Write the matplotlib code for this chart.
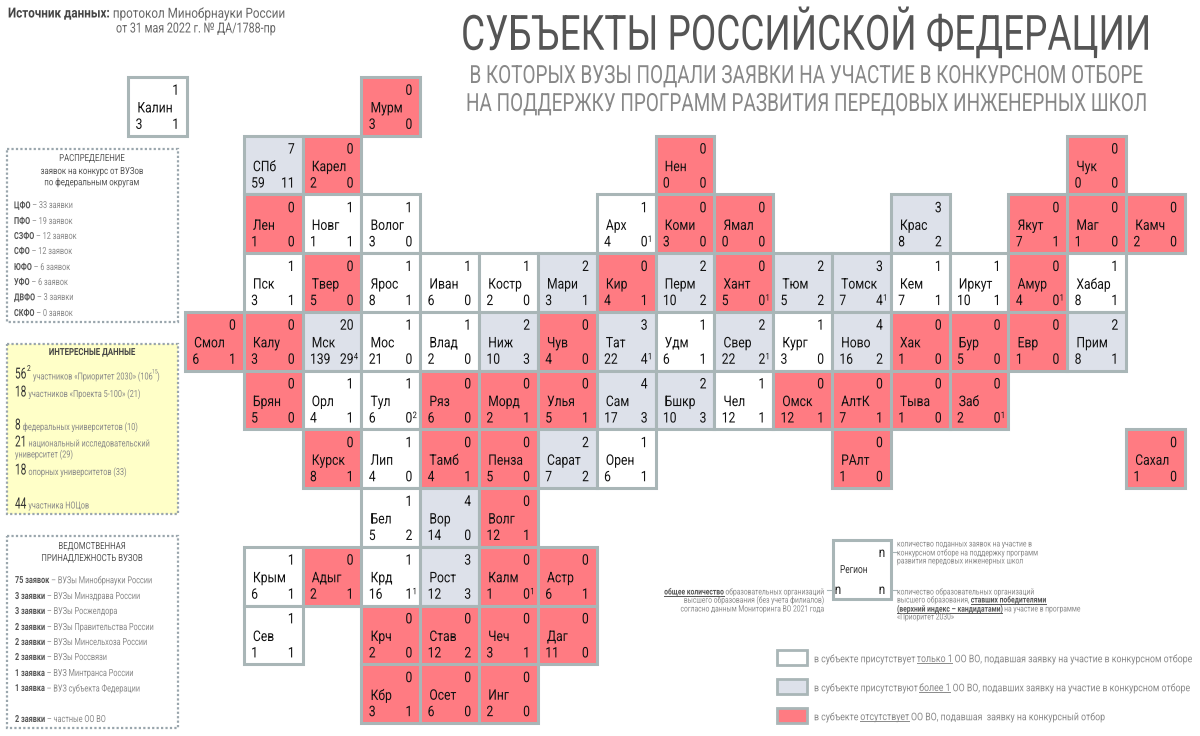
import matplotlib
matplotlib.use("Agg")
import matplotlib.pyplot as plt
from matplotlib.patches import Rectangle
from matplotlib.text import Text
from matplotlib.transforms import Affine2D, Bbox
from matplotlib.patheffects import AbstractPathEffect

plt.rcParams['font.family'] = ['Roboto', 'DejaVu Sans']

# ---------- data ----------
names = ["Калин","Мурм",
 "СПб","Карел","Нен","Чук",
 "Лен","Новг","Волог","Арх","Коми","Ямал","Крас","Якут","Маг","Камч",
 "Пск","Твер","Ярос","Иван","Костр","Мари","Кир","Перм","Хант","Тюм","Томск","Кем","Иркут","Амур","Хабар",
 "Смол","Калу","Мск","Мос","Влад","Ниж","Чув","Тат","Удм","Свер","Кург","Ново","Хак","Бур","Евр","Прим",
 "Брян","Орл","Тул","Ряз","Морд","Улья","Сам","Бшкр","Чел","Омск","АлтК","Тыва","Заб",
 "Курск","Лип","Тамб","Пенза","Сарат","Орен","РАлт","Сахал",
 "Бел","Вор","Волг",
 "Крым","Адыг","Крд","Рост","Калм","Астр",
 "Сев","Крч","Став","Чеч","Даг",
 "Кбр","Осет","Инг"]
cols = [-0.965,3,
 1,2,8,15,
 1,2,3,7,8,9,12,14,15,16,
 1,2,3,4,5,6,7,8,9,10,11,12,13,14,15,
 0,1,2,3,4,5,6,7,8,9,10,11,12,13,14,15,
 1,2,3,4,5,6,7,8,9,10,11,12,13,
 2,3,4,5,6,7,11,16,
 3,4,5,
 1,2,3,4,5,6,
 1,3,4,5,6,
 3,4,5]
rows = [0,0,
 1,1,1,1,
 *[2]*10,
 *[3]*15,
 *[4]*16,
 *[5]*13,
 *[6]*8,
 *[7]*3,
 *[8]*6,
 *[9]*5,
 *[10]*3]
applications = [1,0,
 7,0,0,0,
 0,1,1,1,0,0,3,0,0,0,
 1,0,1,1,1,2,0,2,0,2,3,1,1,0,1,
 0,0,20,1,1,2,0,3,1,2,1,4,0,0,0,2,
 0,1,1,0,0,0,4,2,1,0,0,0,0,
 0,1,0,0,2,1,0,0,
 1,4,0,
 1,0,1,3,0,0,
 1,0,0,0,0,
 0,0,0]
organisations = [3,3,
 59,2,0,0,
 1,1,3,4,3,0,8,7,1,2,
 3,5,8,6,2,3,4,10,5,5,7,7,10,4,8,
 6,3,139,21,2,10,4,22,6,22,3,16,1,5,1,8,
 5,4,6,6,2,5,17,10,12,12,7,1,2,
 8,4,4,5,7,6,1,1,
 5,14,12,
 6,2,16,12,1,6,
 1,2,12,3,11,
 3,6,2]
winners = [1,0,
 11,0,0,0,
 0,1,0,0,0,0,2,1,0,0,
 1,0,1,0,0,1,1,2,0,2,4,1,1,0,1,
 1,0,29,0,0,3,0,4,1,2,0,2,0,0,0,1,
 0,1,0,0,1,1,3,3,1,1,1,0,0,
 1,0,1,0,2,1,0,0,
 2,0,1,
 1,1,1,3,0,1,
 1,0,2,1,0,
 1,0,0]
candidates = {"Арх":1,"Хант":1,"Томск":1,"Амур":1,"Мск":4,"Тат":1,"Свер":1,"Тул":2,"Заб":1,"Крд":1,"Калм":1}

okrug_labels = ["ЦФО","ПФО","СЗФО","СФО","ЮФО","УФО","ДВФО","СКФО"]
okrug_values = ["33 заявки","19 заявок","12 заявок","12 заявок","6 заявок","6 заявок","3 заявки","0 заявок"]
dept_counts = ["75 заявок","3 заявки","3 заявки","2 заявки","2 заявки","2 заявки","1 заявка","1 заявка","2 заявки"]
dept_names = ["ВУЗы Минобрнауки России","ВУЗы Минздрава России","ВУЗы Росжелдора","ВУЗы Правительства России",
              "ВУЗы Минсельхоза России","ВУЗы Россвязи","ВУЗ Минтранса России","ВУЗ субъекта Федерации","частные ОО ВО"]

RED, GREY, EDGE = "#ff7b82", "#dde1ea", "#a9b6b7"
DARK, MID, LIGHT = "#111111", "#555555", "#8a8a8a"

fig = plt.figure(figsize=(12, 7.36), dpi=100, facecolor="white")
ax = fig.add_axes([0, 0, 1, 1]); ax.set_xlim(0, 1200); ax.set_ylim(736, 0); ax.axis("off")
W, H = 58.82, 58.73
LEFT, TOP = 185 - W, 77
gx = fig.add_axes([LEFT/1200, 1-(TOP+11*H)/736, 18*W/1200, 11*H/736])
gx.set_xlim(-1, 17); gx.set_ylim(11, 0); gx.axis("off")
renderer = fig.canvas.get_renderer()


class Squeeze(AbstractPathEffect):
    """Condensed lettering: narrows the glyph outlines about a fixed x."""
    def __init__(self, sx, x0):
        super().__init__()
        self.sx, self.x0 = sx, x0

    def draw_path(self, rend, gc, tpath, affine, rgbFace=None):
        squeeze = Affine2D().translate(-self.x0, 0).scale(self.sx, 1).translate(self.x0, 0)
        rend.draw_path(gc, tpath, affine + squeeze, rgbFace)


class NarrowText(Text):
    def __init__(self, x, y, s, sx=0.78, **kw):
        super().__init__(x, y, s, **kw)
        self.sx = sx

    def place(self, axes):
        axes.add_artist(self)
        self.anchor = axes.transData.transform((self.get_position()))[0]
        self.set_path_effects([Squeeze(self.sx, self.anchor)])
        return self

    def get_window_extent(self, renderer=None, dpi=None):
        b = super().get_window_extent(renderer, dpi)
        a, s = self.anchor, self.sx
        return Bbox.from_extents(a + (b.x0 - a) * s, b.y0, a + (b.x1 - a) * s, b.y1)


def T(axes, x, y, s, sx=0.78, **kw):
    return NarrowText(x, y, s, sx=sx, **kw).place(axes)


def rich(x, y, parts, sx=0.78, align="left"):
    """parts: (string, size, weight, colour, underline)"""
    widths = []
    for p in parts:
        t = ax.text(0, 0, p[0].replace(" ", "\u00a0"), fontsize=p[1], fontweight=p[2])
        widths.append(t.get_window_extent(renderer).width * sx)
        t.remove()
    if align == "right":
        x -= sum(widths)
    for p, w in zip(parts, widths):
        T(ax, x, y, p[0].replace(" ", "\u00a0"), sx=sx, fontsize=p[1], fontweight=p[2], color=p[3],
          va="center_baseline", ha="left")
        if len(p) > 4 and p[4]:
            ax.plot([x, x+w], [y+4.8, y+4.8], color=p[3], lw=0.7)
        x += w


# ---------- tile map ----------
CELL_FS, CELL_SX = 10.5, 0.83
for i, nm in enumerate(names):
    c, r = cols[i], rows[i]
    a, o, w = applications[i], organisations[i], winners[i]
    face = RED if a == 0 else ("white" if a == 1 else GREY)
    gx.add_patch(Rectangle((c, r), 1, 1, facecolor=face, edgecolor=EDGE, lw=2.2, clip_on=False, zorder=1))
    kw = dict(sx=CELL_SX, fontsize=CELL_FS, color=DARK, va="center", zorder=3)
    T(gx, c+0.865, r+0.235, str(a), ha="right", **kw)
    T(gx, c+0.155, r+0.535, nm, ha="left", **kw)
    T(gx, c+0.125, r+0.815, str(o), ha="left", **kw)
    T(gx, c+0.865, r+0.815, str(w), ha="right", **kw)
    if nm in candidates:
        T(gx, c+0.87, r+0.765, str(candidates[nm]), sx=CELL_SX, fontsize=6.5, color=DARK, ha="left", va="center", zorder=3)

# ---------- header ----------
T(ax, 806, 34, "СУБЪЕКТЫ РОССИЙСКОЙ ФЕДЕРАЦИИ", sx=0.76, fontsize=35, color="#555555", ha="center", va="center")
T(ax, 806, 76, "В КОТОРЫХ ВУЗЫ ПОДАЛИ ЗАЯВКИ НА УЧАСТИЕ В КОНКУРСНОМ ОТБОРЕ", sx=0.758, fontsize=18, color="#888888", ha="center", va="center")
T(ax, 806, 104, "НА ПОДДЕРЖКУ ПРОГРАММ РАЗВИТИЯ ПЕРЕДОВЫХ ИНЖЕНЕРНЫХ ШКОЛ", sx=0.758, fontsize=18, color="#888888", ha="center", va="center")
rich(8, 12, [("Источник данных:", 10, "bold", "#444444"), (" протокол Минобрнауки России", 10, "normal", "#666666")], sx=0.84)
rich(116, 27, [("от 31 мая 2022 г. № ДА/1788-пр", 10, "normal", "#666666")], sx=0.77)

# ---------- side panels ----------
def panel(y0, y1, face="white"):
    ax.add_patch(Rectangle((7, y0), 171, y1-y0, facecolor=face, edgecolor="#9aa6ad", lw=1.6, ls=(0, (1, 1)), zorder=0.5))

panel(149, 322)
panel(344, 514, "#ffffc8")
panel(536, 728)

for y, s, col in [(158, "РАСПРЕДЕЛЕНИЕ", MID), (171, "заявок на конкурс от ВУЗов", MID), (182, "по федеральным округам", MID)]:
    T(ax, 92, y, s, sx=0.8, fontsize=7, color=col, ha="center", va="center")
for y, lab, val in zip([204, 220, 235, 250, 266, 281, 296, 312], okrug_labels, okrug_values):
    rich(14, y, [(lab, 7, "bold", MID), (" – " + val, 7, "normal", LIGHT)], sx=0.75)

BIG = 11
T(ax, 92, 352, "ИНТЕРЕСНЫЕ ДАННЫЕ", sx=0.8, fontsize=7, color="#444444", ha="center", va="center", fontweight="bold")
rich(15, 373, [("56", BIG, "normal", "#333333")], sx=0.66)
T(ax, 27, 369, "2", sx=0.8, fontsize=6, color="#333333", va="center")
rich(33, 375, [("участников «Приоритет 2030» (106", 7, "normal", LIGHT)], sx=0.75)
T(ax, 152, 372, "15", sx=0.8, fontsize=4.5, color=LIGHT, va="center")
T(ax, 157, 375, ")", sx=0.8, fontsize=7, color=LIGHT, va="center_baseline")
for y, n, s in [(391, "18", " участников «Проекта 5-100» (21)"), (424, "8", " федеральных университетов (10)"),
                (441, "21", " национальный исследовательский"), (469, "18", " опорных университетов (33)"),
                (503, "44", " участника НОЦов")]:
    x = 15 + len(n) * 5.8
    rich(15, y, [(n, BIG, "normal", "#333333")], sx=0.66)
    rich(x, y + 1.5, [(s, 7, "normal", LIGHT)], sx=0.75)
rich(15, 453, [("университет (29)", 7, "normal", LIGHT)], sx=0.75)

T(ax, 92, 546, "ВЕДОМСТВЕННАЯ", sx=0.8, fontsize=7, color=MID, ha="center", va="center")
T(ax, 92, 558, "ПРИНАДЛЕЖНОСТЬ ВУЗОВ", sx=0.8, fontsize=7, color=MID, ha="center", va="center")
for y, cnt, nm in zip([579, 595, 610, 626, 641, 656, 672, 687, 718], dept_counts, dept_names):
    rich(15, y, [(cnt, 7, "bold", MID), (" – " + nm, 7, "normal", LIGHT)], sx=0.75)

# ---------- key cell ----------
ax.add_patch(Rectangle((832.5, 540), 58, 58.5, facecolor="white", edgecolor=EDGE, lw=2.2))
T(ax, 840, 570, "Регион", sx=0.75, fontsize=8, color="#333333", va="center")
for x, y in [(882, 553), (882, 590), (838, 590)]:
    T(ax, x, y, "n", sx=0.85, fontsize=10, color="#222222", ha="center", va="center")
for x0, x1, y in [(891, 897, 552), (891, 897, 590), (827, 833, 590)]:
    ax.plot([x0, x1], [y, y], color=EDGE, lw=0.8)

KF = 6.2
for y, s in [(543, "количество поданных заявок на участие в"), (552, "конкурсном отборе на поддержку программ"), (560, "развития передовых инженерных школ")]:
    rich(897, y, [(s, KF, "normal", LIGHT)])
rich(897, 591, [("количество образовательных организаций", KF, "normal", LIGHT)])
rich(897, 599, [("высшего образования, ", KF, "normal", LIGHT), ("ставших победителями", KF, "bold", MID, True)])
rich(897, 608, [("(верхний индекс – кандидатами)", KF, "bold", MID, True), (" на участие в программе", KF, "normal", LIGHT)])
rich(897, 616, [("«Приоритет 2030»", KF, "normal", LIGHT)])
rich(824, 591, [("общее количество", KF, "bold", MID, True), (" образовательных организаций", KF, "normal", LIGHT)], align="right")
rich(824, 599, [("высшего образования (без учета филиалов)", KF, "normal", LIGHT)], align="right")
rich(824, 608, [("согласно данным Мониторинга ВО 2021 года", KF, "normal", LIGHT)], align="right")

# ---------- legend ----------
LF = 7.6
for y, face in [(649.5, "white"), (678.5, GREY), (708, RED)]:
    ax.add_patch(Rectangle((777, y), 29.5, 15, facecolor=face, edgecolor=EDGE, lw=2))
rich(814, 658, [("в субъекте присутствует ", LF, "normal", LIGHT), ("только 1", LF, "normal", LIGHT, True),
                (" ОО ВО, подавшая заявку на участие в конкурсном отборе", LF, "normal", LIGHT)], sx=0.83)
rich(814, 687, [("в субъекте присутствуют ", LF, "normal", LIGHT), ("более 1", LF, "normal", LIGHT, True),
                (" ОО ВО, подавших заявку на участие в конкурсном отборе", LF, "normal", LIGHT)], sx=0.83)
rich(814, 716, [("в субъекте ", LF, "normal", LIGHT), ("отсутствует", LF, "normal", LIGHT, True),
                (" ОО ВО, подавшая  заявку на конкурсный отбор", LF, "normal", LIGHT)], sx=0.83)

fig.savefig("out.png", dpi=100, facecolor="white")
